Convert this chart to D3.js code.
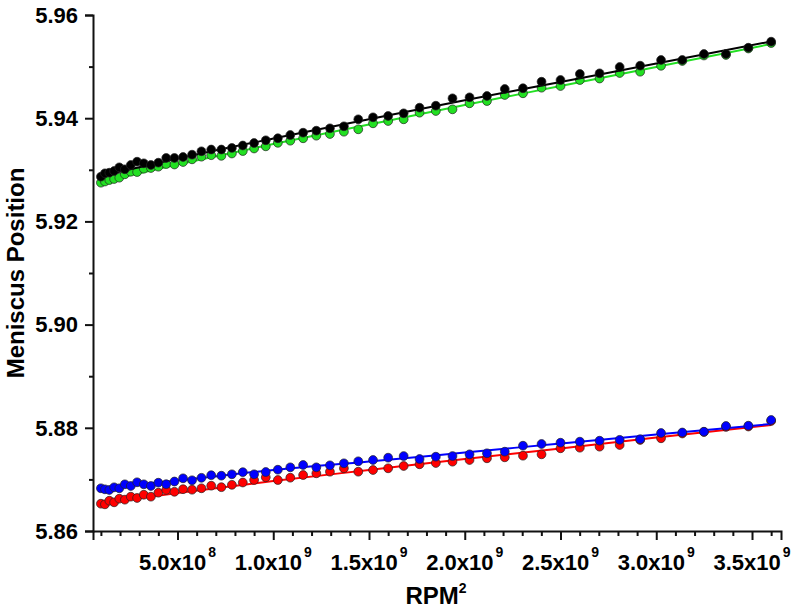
<!DOCTYPE html>
<html>
<head>
<meta charset="utf-8">
<script src="https://cdn.jsdelivr.net/npm/d3@7"></script>
<style>
  body { margin: 0; background: #fff; }
  text { font-family: "Liberation Sans", Arial, sans-serif; font-weight: bold; fill: #000; }
</style>
</head>
<body>
<div id="chart"></div>
<script>
// RPM^2 for every run (10000 .. 60000 rpm)
var rpm2 = [1.00e8, 1.21e8, 1.44e8, 1.69e8, 1.96e8, 2.25e8, 2.56e8, 2.89e8, 3.24e8, 3.61e8,
            4.00e8, 4.41e8, 4.84e8, 5.29e8, 5.76e8, 6.25e8, 6.76e8, 7.29e8, 7.84e8, 8.41e8,
            9.00e8, 9.61e8, 10.24e8, 10.89e8, 11.56e8, 12.25e8, 12.96e8, 13.69e8, 14.44e8, 15.21e8,
            16.00e8, 16.81e8, 17.64e8, 18.49e8, 19.36e8, 20.25e8, 21.16e8, 22.09e8, 23.04e8, 24.01e8,
            25.00e8, 26.01e8, 27.04e8, 28.09e8, 29.16e8, 30.25e8, 31.36e8, 32.49e8, 33.64e8, 34.81e8,
            36.00e8];

var blackPts = [5.92866, 5.92932, 5.92944, 5.92977, 5.93048, 5.93010, 5.93093, 5.93157, 5.93126, 5.93093,
                5.93138, 5.93229, 5.93229, 5.93248, 5.93293, 5.93359, 5.93393, 5.93393, 5.93423, 5.93471,
                5.93519, 5.93572, 5.93611, 5.93674, 5.93719, 5.93758, 5.93804, 5.93843, 5.93979, 5.94017,
                5.94043, 5.94095, 5.94204, 5.94242, 5.94386, 5.94405, 5.94430, 5.94566, 5.94580, 5.94707,
                5.94740, 5.94857, 5.94870, 5.94992, 5.95018, 5.95128, 5.95128, 5.95244, 5.95244, 5.95366,
                5.95483];
var greenPts = [5.92750, 5.92773, 5.92802, 5.92822, 5.92847, 5.92913, 5.92963, 5.92957, 5.93021, 5.93035,
                5.93060, 5.93112, 5.93103, 5.93151, 5.93203, 5.93254, 5.93283, 5.93271, 5.93316, 5.93364,
                5.93413, 5.93455, 5.93523, 5.93564, 5.93611, 5.93661, 5.93694, 5.93738, 5.93785, 5.93901,
                5.93946, 5.93979, 5.94107, 5.94140, 5.94172, 5.94289, 5.94333, 5.94450, 5.94483, 5.94591,
                5.94624, 5.94740, 5.94769, 5.94876, 5.94901, 5.95016, 5.95109, 5.95215, 5.95225, 5.95351,
                5.95457];
var bluePts = [5.86828, 5.86808, 5.86795, 5.86847, 5.86828, 5.86905, 5.86872, 5.86944, 5.86905, 5.86872,
               5.86936, 5.86907, 5.86959, 5.87021, 5.86983, 5.87031, 5.87081, 5.87072, 5.87099, 5.87140,
               5.87099, 5.87143, 5.87188, 5.87234, 5.87279, 5.87234, 5.87273, 5.87312, 5.87351, 5.87376,
               5.87421, 5.87453, 5.87395, 5.87440, 5.87453, 5.87486, 5.87506, 5.87537, 5.87653, 5.87686,
               5.87711, 5.87731, 5.87750, 5.87767, 5.87779, 5.87899, 5.87909, 5.87924, 5.88035, 5.88041,
               5.88151];
var redPts = [5.86529, 5.86517, 5.86587, 5.86556, 5.86626, 5.86607, 5.86665, 5.86640, 5.86703, 5.86665,
              5.86742, 5.86795, 5.86760, 5.86810, 5.86800, 5.86828, 5.86878, 5.86849, 5.86895, 5.86940,
              5.86988, 5.87041, 5.86988, 5.87033, 5.87085, 5.87118, 5.87149, 5.87215, 5.87149, 5.87182,
              5.87215, 5.87260, 5.87293, 5.87318, 5.87343, 5.87376, 5.87409, 5.87428, 5.87459, 5.87486,
              5.87603, 5.87614, 5.87634, 5.87667, 5.87764, 5.87797, 5.87890, 5.87919, 5.88016, 5.88025,
              5.88132];

// fitted curves, read at a few positions
var fitX = [1e8, 5e8, 10e8, 15e8, 20e8, 25e8, 30e8, 36e8];
var blackFit = [5.92880, 5.93219, 5.93607, 5.93979, 5.94347, 5.94703, 5.95060, 5.95488];
var greenFit = [5.92764, 5.93103, 5.93500, 5.93878, 5.94254, 5.94624, 5.94994, 5.95438];
var blueFit  = [5.86833, 5.86979, 5.87182, 5.87347, 5.87521, 5.87696, 5.87870, 5.88074];
var redFit   = [5.86533, 5.86736, 5.86969, 5.87182, 5.87395, 5.87599, 5.87812, 5.88054];

var yTicks = [5.86, 5.88, 5.90, 5.92, 5.94, 5.96];
var yMinor = [5.87, 5.89, 5.91, 5.93, 5.95];
var xTicks = [5e8, 10e8, 15e8, 20e8, 25e8, 30e8, 35e8];
var xTickLabels = [["5.0x10", "8"], ["1.0x10", "9"], ["1.5x10", "9"], ["2.0x10", "9"],
                   ["2.5x10", "9"], ["3.0x10", "9"], ["3.5x10", "9"]];
var xMinor = [1e8, 2e8, 3e8, 4e8, 6e8, 7e8, 8e8, 9e8, 11e8, 12e8, 13e8, 14e8, 16e8, 17e8, 18e8, 19e8,
              21e8, 22e8, 23e8, 24e8, 26e8, 27e8, 28e8, 29e8, 31e8, 32e8, 33e8, 34e8, 36e8];

var series = [
  {pts: redPts, fit: redFit, color: "#ff0000"},
  {pts: bluePts, fit: blueFit, color: "#0000ff"},
  {pts: greenPts, fit: greenFit, color: "#22e022"},
  {pts: blackPts, fit: blackFit, color: "#000000"}
];

var width = 795, height = 610;
var plotLeft = 93, plotRight = 781, plotTop = 15, plotBottom = 531;

var svg = d3.select("#chart").append("svg")
  .attr("width", width)
  .attr("height", height);

var x = d3.scaleLinear().domain([0.5875e8, 36.514e8]).range([plotLeft, plotRight]);
var y = d3.scaleLinear().domain([5.86, 5.96]).range([plotBottom, plotTop]);

// data
var line = d3.line().curve(d3.curveMonotoneX);

series.forEach(function(s){
  svg.append("path")
    .attr("d", line(fitX.map(function(v, i){ return [x(v), y(s.fit[i])]; })))
    .attr("fill", "none")
    .attr("stroke", s.color)
    .attr("stroke-width", 2);

  svg.append("g").selectAll("circle")
    .data(s.pts)
    .enter().append("circle")
    .attr("cx", function(d, i){ return x(rpm2[i]); })
    .attr("cy", function(d){ return y(d); })
    .attr("r", 4.4)
    .attr("fill", s.color)
    .attr("stroke", "#222")
    .attr("stroke-width", 0.7);
});

// y axis
var yAxis = svg.append("g").attr("transform", "translate(" + plotLeft + ",0)")
  .call(d3.axisLeft(y).tickValues(yTicks).tickSize(8).tickFormat(d3.format(".2f")));
svg.append("g").attr("transform", "translate(" + plotLeft + ",0)")
  .call(d3.axisLeft(y).tickValues(yMinor).tickSize(4).tickFormat(""))
  .select(".domain").remove();

yAxis.selectAll("text")
  .attr("x", -15)
  .attr("dy", "0.33em")
  .style("font-size", "22px")
  .style("font-family", "'Liberation Sans', Arial, sans-serif")
  .style("font-weight", "bold")
  .attr("fill", "#000");

// x axis
svg.append("g").attr("transform", "translate(0," + plotBottom + ")")
  .call(d3.axisBottom(x).tickValues(xTicks).tickSize(9).tickFormat(""));
svg.append("g").attr("transform", "translate(0," + plotBottom + ")")
  .call(d3.axisBottom(x).tickValues(xMinor).tickSize(5).tickFormat(""))
  .select(".domain").remove();

xTicks.forEach(function(v, i){
  var t = svg.append("text")
    .attr("x", x(v))
    .attr("y", 570)
    .attr("text-anchor", "middle")
    .style("font-size", "22px");
  t.append("tspan").text(xTickLabels[i][0]);
  t.append("tspan").attr("dx", 2).attr("dy", -13).style("font-size", "14px").text(xTickLabels[i][1]);
});

svg.selectAll(".domain, .tick line")
  .attr("stroke", "#111")
  .attr("stroke-width", 2);

// titles
var xt = svg.append("text")
  .attr("x", 436)
  .attr("y", 604)
  .attr("text-anchor", "middle")
  .style("font-size", "24px");
xt.append("tspan").text("RPM");
xt.append("tspan").attr("dy", -11).style("font-size", "14px").text("2");

svg.append("text")
  .attr("transform", "translate(24,273) rotate(-90)")
  .attr("text-anchor", "middle")
  .style("font-size", "24px")
  .text("Meniscus Position");
</script>
</body>
</html>
